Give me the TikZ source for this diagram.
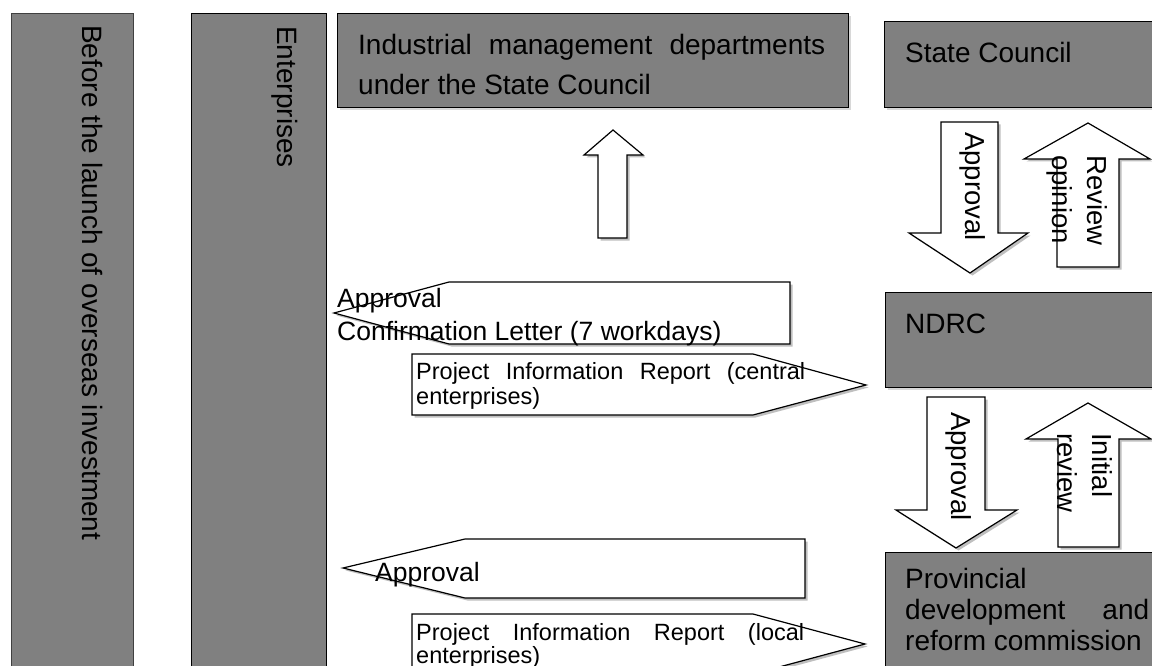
\documentclass[tikz,border=0pt]{standalone}
\usepackage{fontspec}
\setmainfont{Liberation Sans}
\usetikzlibrary{shadows}
\definecolor{boxgray}{RGB}{128,128,128}
\definecolor{edgegray}{RGB}{64,64,64}
\newcommand\fbig{\fontsize{28}{31}\selectfont}
\newcommand\fmid{\fontsize{26.5}{32}\selectfont}
\newcommand\fsmall{\fontsize{23.5}{25}\selectfont}
\newcommand\frot{\fontsize{27.5}{35}\selectfont}
\begin{document}
\begin{tikzpicture}[x=1pt,y=-1pt,
  colbox/.style={draw=edgegray, line width=1.3pt, fill=boxgray, inner sep=0pt, anchor=north west},
  graybox/.style={draw=black, line width=1.3pt, fill=boxgray, inner sep=0pt, anchor=north west,
    drop shadow={shadow xshift=2pt, shadow yshift=-2pt, fill=black!25, opacity=.6}},
  blockarrow/.style={draw=black, line width=1.2pt, fill=white, line join=miter,
    drop shadow={shadow xshift=2.5pt, shadow yshift=-2.5pt, fill=black!45, opacity=.55}},
  vtext/.style={rotate=-90, anchor=north west, inner sep=0pt, font=\frot, align=left},
  htext/.style={anchor=base west, inner sep=0pt},
]
\useasboundingbox (0,0) rectangle (1152,666);
\fill[white] (0,0) rectangle (1152,666);
\clip (0,0) rectangle (1152,666);

% columns
\node[colbox, minimum width=122pt, minimum height=680pt] (before) at (11,13) {};
\node[colbox, draw=black, minimum width=135pt, minimum height=680pt] (ent) at (191,13) {};
\node[vtext, font=\fbig] (beforet) at (103,25) {Before the launch of overseas investment};
\node[vtext, font=\fbig] (entt) at (298,26) {Enterprises};

% boxes
\node[graybox, minimum width=511pt, minimum height=94pt] (ind) at (337,13) {};
\node[graybox, minimum width=300pt, minimum height=86pt] (sc) at (884,21) {};
\node[graybox, minimum width=300pt, minimum height=95pt] (ndrc) at (885,292) {};
\node[graybox, minimum width=300pt, minimum height=140pt] (prov) at (885,552) {};

\node[htext, font=\fbig] (ind1) at (358,55) {\makebox[467pt][s]{Industrial management departments}};
\node[htext, font=\fbig] (ind2) at (358,95) {under the State Council};
\node[htext, font=\fbig] (sct) at (905,63) {State Council};
\node[htext, font=\fbig] (ndrct) at (905,333) {NDRC};
\node[htext, font=\fbig] (prov1) at (905,588) {Provincial};
\node[htext, font=\fbig] (prov2) at (905,619) {\makebox[244pt][s]{development and}};
\node[htext, font=\fbig] (prov3) at (905,650) {reform commission};

% vertical block arrows
\draw[blockarrow] (613,130) -- (643,155) -- (627,155) -- (627,238) -- (598,238) -- (598,155) -- (584,155) -- cycle;
\draw[blockarrow] (941,122) -- (998,122) -- (998,233) -- (1028,233) -- (970,273) -- (909,233) -- (941,233) -- cycle;
\draw[blockarrow] (1088,123) -- (1150,159) -- (1119,159) -- (1119,267) -- (1057,267) -- (1057,159) -- (1024,159) -- cycle;
\draw[blockarrow] (927,397) -- (985,397) -- (985,510) -- (1017,510) -- (956,548) -- (896,510) -- (927,510) -- cycle;
\draw[blockarrow] (1088,403) -- (1151,439) -- (1119,439) -- (1119,547) -- (1058,547) -- (1058,439) -- (1026,439) -- cycle;

\node[vtext] (appr1) at (986,132) {Approval};
\node[vtext] (rev) at (1108,155) {Review\\opinion};
\node[vtext] (appr2) at (972,412) {Approval};
\node[vtext] (init) at (1113,433) {Initial\\review};

% horizontal block arrows
\draw[blockarrow] (334,313) -- (449,282) -- (790,282) -- (790,344) -- (449,344) -- cycle;
\draw[blockarrow] (412,354) -- (753,354) -- (866,385) -- (753,415) -- (412,415) -- cycle;
\draw[blockarrow] (343,568) -- (465,539) -- (805,539) -- (805,598) -- (465,598) -- cycle;
\draw[blockarrow] (412,614) -- (753,614) -- (865,644) -- (753,674) -- (412,674) -- cycle;

\node[htext, font=\fmid] (conf1) at (337,307) {Approval};
\node[htext, font=\fmid] (conf2) at (337,340) {Confirmation Letter (7 workdays)};
\node[htext, font=\fsmall] (pc1) at (416,379) {\makebox[389pt][s]{Project Information Report (central}};
\node[htext, font=\fsmall] (pc2) at (416,404) {enterprises)};
\node[htext, font=\fmid] (appr3) at (375,581) {Approval};
\node[htext, font=\fsmall] (pl1) at (416,640) {\makebox[388pt][s]{Project Information Report (local}};
\node[htext, font=\fsmall] (pl2) at (416,663) {enterprises)};
\end{tikzpicture}
\end{document}
